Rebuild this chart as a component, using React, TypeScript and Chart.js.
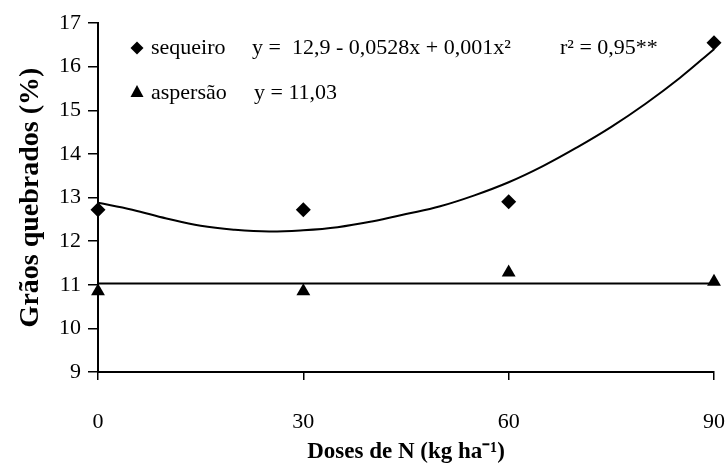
import React, { useEffect, useRef } from "react";
import { Chart, registerables } from "chart.js";

Chart.register(...registerables);

// ---- data ----
const doses = [0, 30, 60, 90];
const sequeiro = [12.72, 12.72, 12.9, 16.55];
const aspersao = [10.85, 10.85, 11.28, 11.07];

// fitted curve for sequeiro
const curveX = [0, 5, 10, 15, 20, 25, 30, 35, 40, 45, 50, 55, 60, 65, 70, 75, 80, 85, 90];
const curveY = [12.88, 12.72, 12.52, 12.35, 12.26, 12.22, 12.25, 12.32, 12.45, 12.62, 12.8, 13.05, 13.35, 13.72, 14.15, 14.62, 15.15, 15.74, 16.4];

// horizontal mean line for aspersão
const aspersaoMean = 11.03;
const meanX = [0, 90];

const xTicks = [0, 30, 60, 90];
const yMin = 9;
const yMax = 17;

const xTitle = "Doses de N (kg ha\u207B\u00B9)";
const yTitle = "Grãos quebrados (%)";
const legendSequeiro = "sequeiro";
const legendAspersao = "aspersão";
const eqSequeiro = "y =  12,9 - 0,0528x + 0,001x\u00B2";
const r2Sequeiro = "r\u00B2 = 0,95**";
const eqAspersao = "y = 11,03";

const FONT = '"Liberation Serif", "Times New Roman", serif';

const legendPlugin = {
  id: "eqLegend",
  afterDraw(chart: any) {
    const ctx = chart.ctx as CanvasRenderingContext2D;
    ctx.save();
    ctx.fillStyle = "#000";
    ctx.font = `22px ${FONT}`;
    ctx.textBaseline = "middle";
    ctx.textAlign = "left";
    // row 1
    const y1 = 48;
    ctx.beginPath();
    ctx.moveTo(137 - 6.5, y1);
    ctx.lineTo(137, y1 - 6.5);
    ctx.lineTo(137 + 6.5, y1);
    ctx.lineTo(137, y1 + 6.5);
    ctx.closePath();
    ctx.fill();
    ctx.fillText(legendSequeiro, 151, y1);
    ctx.fillText(eqSequeiro, 252, y1);
    ctx.fillText(r2Sequeiro, 560, y1);
    // row 2
    const y2 = 93;
    ctx.beginPath();
    ctx.moveTo(137, y2 - 8);
    ctx.lineTo(137 + 6.5, y2 + 4);
    ctx.lineTo(137 - 6.5, y2 + 4);
    ctx.closePath();
    ctx.fill();
    ctx.fillText(legendAspersao, 151, y2);
    ctx.fillText(eqAspersao, 254, y2);
    ctx.restore();
  },
};

export default function App() {
  const ref = useRef<HTMLCanvasElement | null>(null);

  useEffect(() => {
    if (!ref.current) return;
    const chart = new Chart(ref.current, {
      type: "scatter",
      data: {
        datasets: [
          {
            label: legendSequeiro,
            data: doses.map((x, i) => ({ x, y: sequeiro[i] })),
            pointStyle: "rectRot",
            pointRadius: 7.5,
            backgroundColor: "#000",
            borderColor: "#000",
            borderWidth: 0,
            showLine: false,
            clip: false,
          } as any,
          {
            label: legendAspersao,
            data: doses.map((x, i) => ({ x, y: aspersao[i] })),
            pointStyle: "triangle",
            pointRadius: 8,
            backgroundColor: "#000",
            borderColor: "#000",
            borderWidth: 0,
            showLine: false,
            clip: false,
          } as any,
          {
            label: "curve",
            data: curveX.map((x, i) => ({ x, y: curveY[i] })),
            showLine: true,
            pointRadius: 0,
            borderColor: "#000",
            borderWidth: 2,
            tension: 0.4,
            clip: false,
          } as any,
          {
            label: "mean",
            data: meanX.map((x) => ({ x, y: aspersaoMean })),
            showLine: true,
            pointRadius: 0,
            borderColor: "#000",
            borderWidth: 2,
            clip: false,
          } as any,
        ],
      },
      options: {
        animation: false,
        responsive: false,
        maintainAspectRatio: false,
        layout: { padding: { top: 23, right: 14, left: 0, bottom: 0 } },
        plugins: {
          legend: { display: false },
          tooltip: { enabled: false },
        },
        scales: {
          x: {
            type: "linear",
            min: 0,
            max: 90,
            afterBuildTicks: (scale: any) => {
              scale.ticks = xTicks.map((v) => ({ value: v }));
            },
            afterFit: (scale: any) => {
              scale.height = 97;
              scale.paddingLeft = 0;
              scale.paddingRight = 0;
            },
            ticks: {
              color: "#000",
              font: { family: FONT, size: 22 },
              padding: 29,
              maxRotation: 0,
            },
            grid: {
              display: true,
              drawOnChartArea: false,
              drawTicks: true,
              tickLength: 8,
              color: "#000",
              lineWidth: 1.5,
            },
            border: { display: true, color: "#000", width: 2 },
            title: {
              display: true,
              text: xTitle,
              color: "#000",
              font: { family: FONT, size: 23, weight: "bold" },
              padding: { top: 0, bottom: 3 },
            },
          },
          y: {
            type: "linear",
            min: yMin,
            max: yMax,
            ticks: {
              stepSize: 1,
              color: "#000",
              font: { family: FONT, size: 22 },
              padding: 7,
            },
            afterFit: (scale: any) => {
              scale.width = 98;
              scale.paddingTop = 0;
              scale.paddingBottom = 0;
            },
            grid: {
              display: true,
              drawOnChartArea: false,
              drawTicks: true,
              tickLength: 10,
              color: "#000",
              lineWidth: 1.5,
            },
            border: { display: true, color: "#000", width: 2 },
            title: {
              display: true,
              text: yTitle,
              color: "#000",
              font: { family: FONT, size: 28, weight: "bold" },
              padding: { top: 14, bottom: 0 },
            },
          },
        },
      } as any,
      plugins: [legendPlugin],
    });
    return () => chart.destroy();
  }, []);

  return (
    <div style={{ position: "absolute", left: 0, top: 0, width: 728, height: 469, background: "#fff" }}>
      <canvas ref={ref} width={728} height={469} style={{ display: "block" }} />
    </div>
  );
}
